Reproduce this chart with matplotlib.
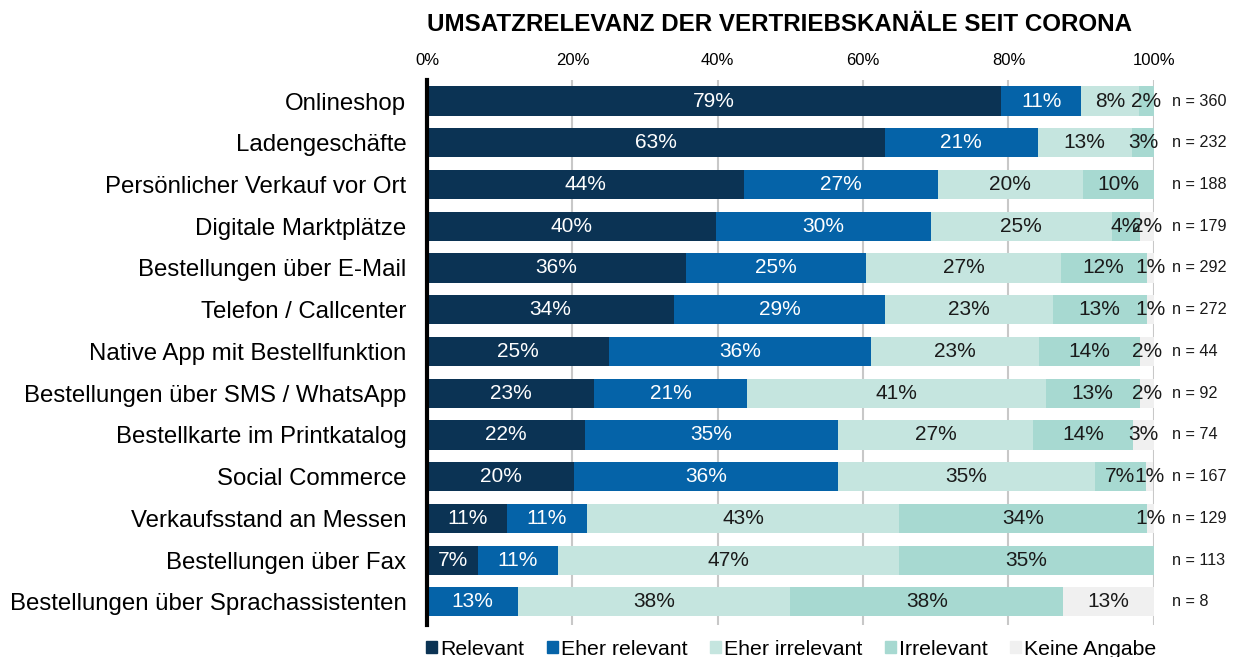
import numpy as np
import matplotlib.pyplot as plt
from matplotlib.patches import Patch

plt.rcParams['font.family'] = ['Liberation Sans', 'DejaVu Sans']

channels = [
    "Onlineshop", "Ladengeschäfte", "Persönlicher Verkauf vor Ort",
    "Digitale Marktplätze", "Bestellungen über E-Mail", "Telefon / Callcenter",
    "Native App mit Bestellfunktion", "Bestellungen über SMS / WhatsApp",
    "Bestellkarte im Printkatalog", "Social Commerce", "Verkaufsstand an Messen",
    "Bestellungen über Fax", "Bestellungen über Sprachassistenten",
]
n_counts = [360, 232, 188, 179, 292, 272, 44, 92, 74, 167, 129, 113, 8]

relevant        = [79, 63, 43.6, 39.7, 35.6, 34, 25, 23, 21.7, 20.2, 11, 7, 0]
eher_relevant   = [11, 21, 26.7, 29.6, 24.8, 29, 36.1, 21, 34.8, 36.3, 11, 11, 12.5]
eher_irrelevant = [8, 13, 19.9, 24.9, 26.8, 23.1, 23.1, 41.1, 26.9, 35.4, 43, 47, 37.5]
irrelevant      = [2, 3, 9.8, 3.9, 11.8, 12.9, 13.9, 13, 13.7, 7, 34, 35, 37.5]
keine_angabe    = [0, 0, 0, 1.9, 1.0, 1, 1.9, 1.9, 2.9, 1, 1, 0, 12.5]

series = [
    ("Relevant", relevant, "#0b3354", "white"),
    ("Eher relevant", eher_relevant, "#0563a8", "white"),
    ("Eher irrelevant", eher_irrelevant, "#c5e5df", "#1a1a1a"),
    ("Irrelevant", irrelevant, "#a7d9d1", "#1a1a1a"),
    ("Keine Angabe", keine_angabe, "#f0f0f0", "#1a1a1a"),
]

fig = plt.figure(figsize=(12.38, 6.57), dpi=100)
ax = fig.add_axes([0.345, 0.049, 0.587, 0.829])

y = np.arange(len(channels))
left = np.zeros(len(channels))
handles = []
for name, vals, color, tcolor in series:
    vals = np.array(vals, dtype=float)
    ax.barh(y, vals, left=left, height=0.7, color=color, zorder=2)
    for yi, (l, v) in enumerate(zip(left, vals)):
        if v > 0:
            ax.text(l + v / 2, yi, f"{int(v + 0.5)}%", ha="center", va="center",
                    fontsize=15, color=tcolor, zorder=3)
    left += vals
    handles.append(Patch(color=color, label=name))

for yi, n in enumerate(n_counts):
    ax.text(102.5, yi, f"n = {n}", ha="left", va="center", fontsize=11.7, color="#1a1a1a")

ax.set_xlim(0, 100)
ax.set_ylim(12.55, -0.5)
ax.set_yticks(y)
ax.set_yticklabels(channels, fontsize=17.3)
ax.set_xticks(range(0, 101, 20))
ax.set_xticklabels([f"{t}%" for t in range(0, 101, 20)], fontsize=12)
ax.xaxis.tick_top()
ax.tick_params(axis="x", length=0, pad=9)
ax.tick_params(axis="y", length=0, pad=15)
ax.grid(axis="x", color="#c8c8c8", linewidth=1.5, zorder=0)
for s in ["top", "right", "bottom"]:
    ax.spines[s].set_visible(False)
ax.spines["left"].set_linewidth(3)
ax.spines["left"].set_color("black")
ax.spines["left"].set_zorder(4)

fig.text(0.345, 0.963, "UMSATZRELEVANZ DER VERTRIEBSKANÄLE SEIT CORONA",
         fontsize=17.4, fontweight="bold", ha="left", va="center")

fig.legend(handles=handles, loc="lower left", bbox_to_anchor=(0.329, -0.032), ncol=5,
           frameon=False, fontsize=15.3, handlelength=0.5, handleheight=0.5,
           handletextpad=0.15, columnspacing=1.07)

fig.savefig("out.png", dpi=100)
